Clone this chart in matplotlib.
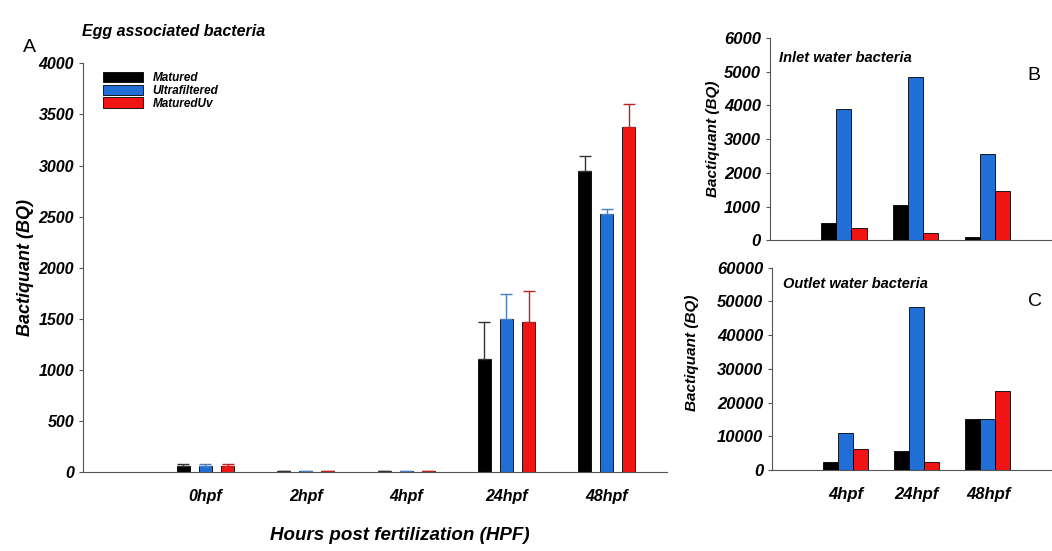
import numpy as np
import matplotlib.pyplot as plt

plt.rcParams['font.family'] = ['Liberation Sans', 'DejaVu Sans']

series = ['Matured', 'Ultrafiltered', 'MaturedUv']
colors = ['#000000', '#1f6fd6', '#f01414']
err_colors = ['#333333', '#4a7fbf', '#c02020']

egg_cats = ['0hpf', '2hpf', '4hpf', '24hpf', '48hpf']
egg_vals = [[60, 10, 10, 1110, 2950],
            [60, 10, 10, 1500, 2530],
            [60, 10, 10, 1470, 3380]]
egg_err = [[25, 0, 0, 360, 140],
           [25, 0, 0, 240, 50],
           [25, 0, 0, 300, 220]]

water_cats = ['4hpf', '24hpf', '48hpf']
inlet_vals = [[500, 1050, 100],
              [3900, 4850, 2550],
              [370, 200, 1450]]
outlet_vals = [[2300, 5500, 15000],
               [10900, 48500, 15000],
               [6200, 2300, 23500]]


def style_axes(ax, size=11):
    for s in ['top', 'right']:
        ax.spines[s].set_visible(False)
    ax.spines['left'].set_color('#555555')
    ax.spines['bottom'].set_color('#555555')
    ax.tick_params(axis='y', length=3, color='#555555')
    ax.tick_params(axis='x', length=0)
    for lab in ax.get_yticklabels() + ax.get_xticklabels():
        lab.set_fontweight('bold')
        lab.set_fontstyle('italic')
        lab.set_fontsize(size)


fig = plt.figure(figsize=(10.52, 5.51), dpi=100)

# panel A
axA = fig.add_axes([0.079, 0.143, 0.555, 0.742])
x = np.arange(len(egg_cats))
for i in range(3):
    axA.bar(x + (i - 1) * 0.22, egg_vals[i], 0.13, color=colors[i],
            edgecolor='black', linewidth=0.6, label=series[i])
    axA.errorbar(x + (i - 1) * 0.22, egg_vals[i], yerr=[np.zeros(5), egg_err[i]],
                 fmt='none', ecolor=err_colors[i], elinewidth=1, capsize=4)
axA.set_xlim(-1.22, 4.6)
axA.set_ylim(0, 4000)
axA.set_yticks(np.arange(0, 4001, 500))
axA.set_xticks(x)
axA.set_xticklabels(egg_cats)
style_axes(axA, 11.5)
axA.tick_params(axis='x', pad=12)
axA.set_ylabel('Bactiquant (BQ)', fontsize=13, fontweight='bold', fontstyle='italic', labelpad=3)
fig.text(0.38, 0.02, 'Hours post fertilization (HPF)', fontsize=13.5, fontweight='bold',
         fontstyle='italic', ha='center')
axA.legend(loc='upper left', bbox_to_anchor=(0.02, 1.0), frameon=False,
           prop=dict(size=8.5, weight='bold', style='italic'),
           handlelength=3.4, handleheight=1.0, labelspacing=0.05, borderpad=0.2)
fig.text(0.078, 0.935, 'Egg associated bacteria', fontsize=11.5, fontweight='bold', fontstyle='italic')
fig.text(0.022, 0.905, 'A', fontsize=14)

# panel B
xw = np.arange(len(water_cats))
axB = fig.add_axes([0.732, 0.564, 0.268, 0.367])
for i in range(3):
    axB.bar(xw + (i - 1) * 0.21, inlet_vals[i], 0.21, color=colors[i],
            edgecolor='black', linewidth=0.6)
axB.set_xlim(-1.03, 2.9)
axB.set_ylim(0, 6000)
axB.set_yticks(np.arange(0, 6001, 1000))
axB.set_xticks([])
style_axes(axB, 12)
axB.set_ylabel('Bactiquant (BQ)', fontsize=11, fontweight='bold', fontstyle='italic', labelpad=3)
axB.text(0.03, 0.88, 'Inlet water bacteria', transform=axB.transAxes,
         fontsize=10.5, fontweight='bold', fontstyle='italic')
fig.text(0.977, 0.855, 'B', fontsize=14)

# panel C
axC = fig.add_axes([0.734, 0.147, 0.266, 0.367])
for i in range(3):
    axC.bar(xw + (i - 1) * 0.21, outlet_vals[i], 0.21, color=colors[i],
            edgecolor='black', linewidth=0.6)
axC.set_xlim(-1.03, 2.9)
axC.set_ylim(0, 60000)
axC.set_yticks(np.arange(0, 60001, 10000))
axC.set_xticks(xw)
axC.set_xticklabels(water_cats)
style_axes(axC, 12)
axC.tick_params(axis='x', pad=12)
axC.set_ylabel('Bactiquant (BQ)', fontsize=11, fontweight='bold', fontstyle='italic', labelpad=1)
axC.yaxis.set_label_coords(-0.26, 0.58)
axC.text(0.04, 0.9, 'Outlet water bacteria', transform=axC.transAxes,
         fontsize=10.5, fontweight='bold', fontstyle='italic')
fig.text(0.977, 0.445, 'C', fontsize=14)

fig.savefig('out.png', dpi=100)
